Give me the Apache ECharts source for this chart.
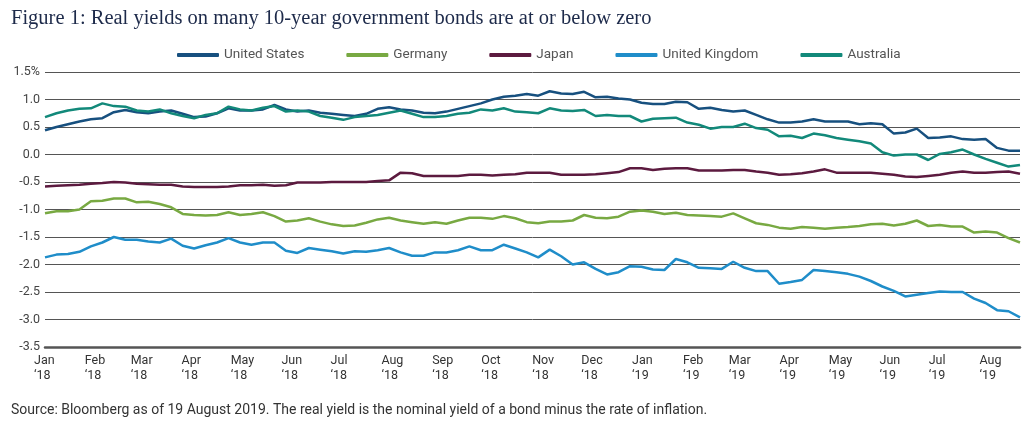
<!DOCTYPE html>
<html>
<head>
<meta charset="utf-8">
<script src="https://cdn.jsdelivr.net/npm/echarts@6/dist/echarts.min.js"></script>
<style>
  html, body { margin: 0; padding: 0; background: #fff; }
  #chart { width: 1032px; height: 421px; }
</style>
</head>
<body>
<div id="chart"></div>
<script>
  'use strict'
  // weekly samples, Mondays from 1 Jan 2018 to 19 Aug 2019
  var startDate = Date.UTC(2018, 0, 1);
  var weeks = [];
  for (var i = 0; i < 86; i++) weeks.push(startDate + i * 7 * 86400000);

  var monthNames = ['Jan', 'Feb', 'Mar', 'Apr', 'May', 'Jun', 'Jul', 'Aug', 'Sep', 'Oct', 'Nov', 'Dec'];
  var yTicks = [-3.5, -3.0, -2.5, -2.0, -1.5, -1.0, -0.5, 0.0, 0.5, 1.0, 1.5];

  var unitedStates = [
    0.44, 0.5, 0.55, 0.6, 0.64, 0.66, 0.77, 0.81, 0.77, 0.75, 0.78, 0.8, 0.74, 0.68, 0.69,
    0.75, 0.84, 0.8, 0.8, 0.82, 0.9, 0.82, 0.78, 0.8, 0.76, 0.74, 0.72, 0.7, 0.74, 0.83,
    0.86, 0.82, 0.8, 0.76, 0.75, 0.78, 0.83, 0.88, 0.93, 1.0, 1.05, 1.07, 1.1, 1.07,
    1.15, 1.11, 1.1, 1.14, 1.04, 1.05, 1.02, 1.0, 0.94, 0.92, 0.92, 0.96, 0.95, 0.83, 0.85,
    0.81, 0.78, 0.8, 0.72, 0.64, 0.58, 0.58, 0.6, 0.64, 0.6, 0.6, 0.6, 0.55, 0.57,
    0.55, 0.38, 0.4, 0.47, 0.3, 0.31, 0.33, 0.28, 0.27, 0.28, 0.12, 0.07, 0.07
  ];
  var germany = [
    -1.07, -1.03, -1.03, -1.0, -0.85, -0.84, -0.8, -0.8, -0.87, -0.86, -0.9, -0.96, -1.08, -1.1, -1.11,
    -1.1, -1.05, -1.1, -1.08, -1.05, -1.12, -1.22, -1.2, -1.16, -1.22, -1.27, -1.3, -1.29, -1.24, -1.18,
    -1.15, -1.2, -1.23, -1.26, -1.23, -1.26, -1.2, -1.15, -1.15, -1.17, -1.12, -1.16, -1.23, -1.25,
    -1.22, -1.22, -1.2, -1.1, -1.15, -1.16, -1.13, -1.04, -1.02, -1.04, -1.08, -1.06, -1.1, -1.11, -1.12,
    -1.13, -1.07, -1.16, -1.25, -1.28, -1.33, -1.35, -1.32, -1.33, -1.35, -1.33, -1.32, -1.3, -1.27,
    -1.26, -1.29, -1.26, -1.2, -1.3, -1.28, -1.31, -1.31, -1.42, -1.4, -1.42, -1.52, -1.6
  ];
  var japan = [
    -0.58, -0.57, -0.56, -0.55, -0.53, -0.52, -0.5, -0.51, -0.53, -0.54, -0.55, -0.55, -0.58, -0.59, -0.59,
    -0.59, -0.58, -0.56, -0.56, -0.55, -0.57, -0.56, -0.51, -0.51, -0.51, -0.5, -0.5, -0.5, -0.5, -0.48,
    -0.47, -0.33, -0.34, -0.39, -0.39, -0.39, -0.39, -0.37, -0.37, -0.38, -0.37, -0.36, -0.33, -0.33,
    -0.33, -0.37, -0.37, -0.37, -0.36, -0.34, -0.32, -0.25, -0.25, -0.28, -0.26, -0.25, -0.25, -0.29, -0.29,
    -0.29, -0.28, -0.28, -0.31, -0.33, -0.37, -0.36, -0.34, -0.31, -0.27, -0.33, -0.33, -0.33, -0.33,
    -0.35, -0.37, -0.4, -0.41, -0.39, -0.37, -0.33, -0.31, -0.33, -0.33, -0.32, -0.31, -0.35
  ];
  var unitedKingdom = [
    -1.87, -1.82, -1.81, -1.77, -1.67, -1.6, -1.5, -1.55, -1.55, -1.58, -1.6, -1.53, -1.66, -1.71, -1.65,
    -1.6, -1.52, -1.6, -1.64, -1.6, -1.6, -1.75, -1.79, -1.7, -1.73, -1.76, -1.8, -1.76, -1.77, -1.74,
    -1.7, -1.78, -1.84, -1.84, -1.78, -1.78, -1.74, -1.67, -1.74, -1.74, -1.64, -1.71, -1.78, -1.87,
    -1.73, -1.85, -2.0, -1.96, -2.08, -2.18, -2.14, -2.03, -2.04, -2.09, -2.1, -1.9, -1.96, -2.06, -2.07,
    -2.08, -1.95, -2.06, -2.12, -2.12, -2.35, -2.32, -2.28, -2.1, -2.12, -2.14, -2.17, -2.22, -2.3,
    -2.4, -2.48, -2.58, -2.55, -2.52, -2.49, -2.5, -2.5, -2.62, -2.7, -2.83, -2.85, -2.96
  ];
  var australia = [
    0.68, 0.75, 0.8, 0.83, 0.84, 0.93, 0.88, 0.87, 0.8, 0.78, 0.82, 0.75, 0.7, 0.66, 0.72,
    0.75, 0.87, 0.82, 0.8, 0.85, 0.88, 0.78, 0.8, 0.78, 0.7, 0.67, 0.63, 0.68, 0.7, 0.72,
    0.76, 0.8, 0.74, 0.68, 0.68, 0.7, 0.74, 0.76, 0.82, 0.8, 0.84, 0.78, 0.77, 0.75,
    0.84, 0.8, 0.79, 0.81, 0.7, 0.72, 0.7, 0.7, 0.6, 0.65, 0.66, 0.67, 0.58, 0.54, 0.47,
    0.5, 0.5, 0.56, 0.48, 0.45, 0.33, 0.34, 0.3, 0.38, 0.35, 0.3, 0.27, 0.24, 0.2,
    0.04, -0.02, 0.0, 0.0, -0.1, 0.01, 0.04, 0.09, 0.0, -0.08, -0.15, -0.22, -0.19
  ];

  function pairs(values) {
    return values.map(function (v, k) { return [weeks[k], v]; });
  }

  var chart = echarts.init(document.getElementById('chart'));

  var lineSeries = function (name, values) {
    return {
      name: name,
      type: 'line',
      showSymbol: false,
      symbol: 'none',
      lineStyle: { width: 2.5 },
      data: pairs(values)
    };
  };

  var option = {
    animation: false,
    color: ['#17507f', '#78a942', '#5c1a3f', '#1f8dc9', '#12897a'],
    title: [
      {
        text: 'Figure 1: Real yields on many 10-year government bonds are at or below zero',
        left: 6,
        top: 3,
        textStyle: { fontFamily: 'Liberation Serif', fontSize: 20.5, fontWeight: 'normal', color: '#1d2a4a' }
      },
      {
        text: 'Source: Bloomberg as of 19 August 2019. The real yield is the nominal yield of a bond minus the rate of inflation.',
        left: 6,
        top: 398,
        textStyle: { fontFamily: 'Roboto', fontSize: 14, fontWeight: 'normal', color: '#333' }
      }
    ],
    legend: {
      left: 172,
      top: 43,
      icon: 'roundRect',
      itemWidth: 42,
      itemHeight: 4,
      itemGap: 42,
      textStyle: { fontFamily: 'Roboto', fontSize: 13.5, color: '#555' },
      data: ['United States', 'Germany', 'Japan', 'United Kingdom', 'Australia']
    },
    grid: { left: 45, right: 12, top: 72, bottom: 74 },
    xAxis: {
      type: 'time',
      min: weeks[0],
      max: weeks[weeks.length - 1],
      minInterval: 28 * 86400000,
      maxInterval: 31 * 86400000,
      splitNumber: 20,
      axisLine: { onZero: false, lineStyle: { color: '#555', width: 2.5 } },
      axisTick: { show: false },
      splitLine: { show: false },
      axisLabel: {
        interval: 0,
        margin: 6,
        fontFamily: 'Roboto',
        fontSize: 12.5,
        color: '#333',
        lineHeight: 15,
        formatter: function (val) {
          var d = new Date(val);
          return '{m|' + monthNames[d.getUTCMonth()] + '}\n{m|\u2018' + String(d.getUTCFullYear()).slice(2) + '}';
        },
        rich: { m: { width: 22, align: 'left', fontFamily: 'Roboto', fontSize: 12.5, color: '#333', lineHeight: 15 } }
      }
    },
    yAxis: {
      type: 'value',
      min: yTicks[0],
      max: yTicks[yTicks.length - 1],
      interval: 0.5,
      axisLine: { show: false },
      axisTick: { show: false },
      splitLine: { lineStyle: { color: '#555', width: 1 } },
      axisLabel: {
        margin: 5,
        fontFamily: 'Roboto',
        fontSize: 12.5,
        color: '#444',
        formatter: function (v) { return v === 1.5 ? '1.5%' : v.toFixed(1); }
      }
    },
    series: [
      lineSeries('United States', unitedStates),
      lineSeries('Germany', germany),
      lineSeries('Japan', japan),
      lineSeries('United Kingdom', unitedKingdom),
      lineSeries('Australia', australia)
    ]
  };

  chart.setOption(option);
</script>
</body>
</html>
